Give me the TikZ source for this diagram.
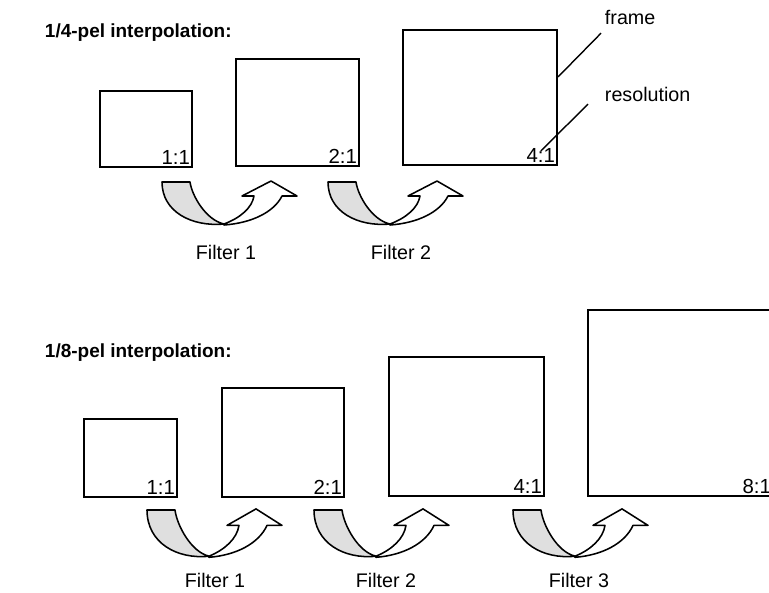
\documentclass[tikz,border=0pt]{standalone}
\usepackage{fontspec}
\setmainfont{Liberation Sans}
\usetikzlibrary{calc}

\begin{document}
\begin{tikzpicture}[
  x=0.025cm, y=-0.025cm,
  every node/.style={font=\fontsize{14}{16}\selectfont},
  frm/.style 2 args={draw, line width=1.5pt, inner sep=0pt,
                     minimum width=#1*0.025cm, minimum height=#2*0.025cm},
  ratio/.style={anchor=south east, inner sep=2pt,
                font=\fontsize{14.5}{16}\selectfont},
  heading/.style={anchor=west, font=\fontsize{13.5}{16}\selectfont\bfseries},
  lead/.style={line width=1pt},
  filterarrow/.pic={
    % grey tail
    \draw[line width=1.1pt, fill=gray!25, line join=round]
      (0,0) -- (28,0) .. controls (30,14) and (44,38) .. (62,42)
      .. controls (30,45) and (0,30) .. (0,0) -- cycle;
    % white head
    \draw[line width=1.1pt, fill=white, line join=round]
      (62,42) .. controls (78,36) and (90,26) .. (92,14)
      -- (80,14) -- (109,-1) -- (135,14) -- (120,14)
      .. controls (112,30) and (90,41) .. (62,43) -- cycle;
  }
]
\useasboundingbox (0,0) rectangle (769,592);

%% 1/4-pel row
\node[heading] (h4) at (40,33) {1/4-pel interpolation:};

\node[frm={92}{76}]   (q1) at (146,129)   {};
\node[frm={123}{107}] (q2) at (297.5,112.5) {};
\node[frm={154}{135}] (q3) at (480,97.5)  {};

\node[ratio] (r1) at (q1.south east) {1:1};
\node[ratio] (r2) at (q2.south east) {2:1};
\node[ratio] (r3) at (q3.south east) {4:1};

\pic (fa1) at (162,182) {filterarrow};
\pic (fa2) at (328,182) {filterarrow};
\node (fl1) at (226,252) {Filter 1};
\node (fl2) at (401,252) {Filter 2};

%% leader labels
\node[anchor=west] (lfrm) at (600,17) {frame};
\node[anchor=west] (lres) at (600,94) {resolution};
\draw[lead] ($(lfrm.south west)+(1,4)$)
  -- ($(q3.north east)!0.35!(q3.south east)$);
\draw[lead] ($(lres.south west)+(-12,-2)$) -- ($(r3.center)+(0,-5)$);

%% 1/8-pel row
\node[heading] (h8) at (40,353) {1/8-pel interpolation:};

\node[frm={93}{78}]   (p1) at (130.5,458) {};
\node[frm={122}{109}] (p2) at (283,442.5) {};
\node[frm={155}{139}] (p3) at (466.5,426.5) {};
\node[frm={188}{186}] (p4) at (682,403)   {};

\node[ratio] (s1) at (p1.south east) {1:1};
\node[ratio] (s2) at (p2.south east) {2:1};
\node[ratio] (s3) at (p3.south east) {4:1};
\node[ratio] (s4) at ($(p4.south east)+(-3,0)$) {8:1};

\pic[yscale=1.1] (fb1) at (147,510) {filterarrow};
\pic[yscale=1.1] (fb2) at (314,510) {filterarrow};
\pic[yscale=1.1] (fb3) at (513,510) {filterarrow};
\node (gl1) at (215,580) {Filter 1};
\node (gl2) at (386,580) {Filter 2};
\node (gl3) at (579,580) {Filter 3};

\end{tikzpicture}
\end{document}
